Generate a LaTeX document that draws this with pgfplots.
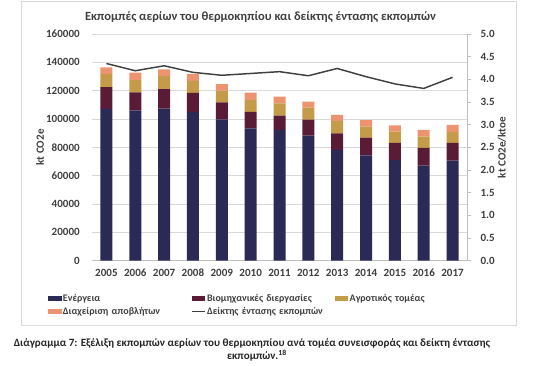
\documentclass[border=0pt]{standalone}
\usepackage{pgfplots}
\pgfplotsset{compat=1.18}
\usepackage{pgfplotstable}
\usepackage{fontspec}
\setmainfont{Carlito}
\definecolor{enc}{HTML}{2B2956}
\definecolor{indc}{HTML}{5A1B36}
\definecolor{agc}{HTML}{C49B48}
\definecolor{wac}{HTML}{EE936F}
\definecolor{linec}{HTML}{404040}
\definecolor{gridc}{HTML}{D9D9D9}
\definecolor{axc}{HTML}{BFBFBF}
\definecolor{txtc}{HTML}{404040}
\definecolor{framec}{HTML}{D9D9D9}
\pgfplotstableread{
x E I A W L
0 107100 15500 9200 4700 4.35
1 106150 12750 8650 5150 4.19
2 107300 13900 9200 4700 4.30
3 105000 13400 8500 4900 4.155
4 99800 12000 8200 4700 4.09
5 93450 11550 8400 5200 4.13
6 92260 10140 8700 4700 4.17
7 88240 11300 8460 4240 4.08
8 78150 11780 8670 4250 4.24
9 74400 12400 7800 4700 4.06
10 71100 12000 8000 4500 3.90
11 67070 12490 7940 4760 3.80
12 70600 12500 7750 4950 4.045
}\datatable
\begin{document}
\bfseries
\begin{tikzpicture}[x=0.75pt,y=0.75pt]
\path[use as bounding box] (0,0) rectangle (540,365);
\draw[framec, line width=0.75pt] (21,363) rectangle (516,40);
\node[font=\fontsize{9.4}{11}\selectfont\bfseries, text=txtc] at (260.5,348) {Εκπομπές αερίων του θερμοκηπίου και δείκτης έντασης εκπομπών};
\node[rotate=90, font=\fontsize{8.3}{10}\selectfont\bfseries, text=txtc] at (40,217.6) {kt CO2e};
\node[rotate=90, font=\fontsize{8.3}{10}\selectfont\bfseries, text=txtc] at (502,217.6) {kt CO2e/ktoe};
\node[font=\fontsize{8.3}{9.5}\selectfont\bfseries, text=black!85] at (252,22) {Διάγραμμα 7: Εξέλιξη εκπομπών αερίων του θερμοκηπίου ανά τομέα συνεισφοράς και δείκτη έντασης};
\node[font=\fontsize{8.3}{9.5}\selectfont\bfseries, text=black!85] at (257,9) {εκπομπών.\textsuperscript{18}};
\begin{axis}[
  at={(69pt,78.225pt)}, anchor=south west,
  scale only axis, width=281.25pt, height=170pt,
  ybar stacked, bar width=9pt,
  xmin=-0.5, xmax=12.5, ymin=0, ymax=160000,
  scaled y ticks=false,
  xtick={0,...,12},
  xticklabels={2005,2006,2007,2008,2009,2010,2011,2012,2013,2014,2015,2016,2017},
  ytick={0,20000,40000,60000,80000,100000,120000,140000,160000},
  yticklabels={0,20000,40000,60000,80000,100000,120000,140000,160000},
  yticklabel style={anchor=east, inner sep=0pt, xshift=-9pt},
  xticklabel style={inner sep=0pt, yshift=-6pt, anchor=north},
  ticklabel style={font=\fontsize{8.3}{10}\selectfont\bfseries, text=txtc},
  axis x line*=bottom, axis y line*=left,
  y axis line style={draw=none},
  x axis line style={draw=axc, line width=0.75pt},
  major tick length=0pt,
  ymajorgrids, grid style={gridc, line width=0.75pt},
  legend columns=3,
  legend style={at={(axis description cs:-0.128,-0.125)}, anchor=north west, draw=none, fill=none,
    font=\fontsize{7.5}{9}\selectfont\bfseries, text=txtc,
    nodes={text width=95pt, align=left, inner xsep=1pt, inner ysep=1.5pt},
    /tikz/every even column/.append style={column sep=0pt}},
]
\addplot[fill=enc, draw=none, legend image code/.code={\fill[enc] (0pt,-2pt) rectangle (10pt,2pt);}] table[x=x,y=E] {\datatable};
\addlegendentry{Ενέργεια}
\addplot[fill=indc, draw=none, legend image code/.code={\fill[indc] (0pt,-2pt) rectangle (10pt,2pt);}] table[x=x,y=I] {\datatable};
\addlegendentry{Βιομηχανικές διεργασίες}
\addplot[fill=agc, draw=none, legend image code/.code={\fill[agc] (0pt,-2pt) rectangle (10pt,2pt);}] table[x=x,y=A] {\datatable};
\addlegendentry{Αγροτικός τομέας}
\addplot[fill=wac, draw=none, legend image code/.code={\fill[wac] (0pt,-2pt) rectangle (10pt,2pt);}] table[x=x,y=W] {\datatable};
\addlegendentry{Διαχείριση αποβλήτων}
\addlegendimage{legend image code/.code={\draw[linec, line width=1.1pt] (0pt,0pt) -- (10pt,0pt);}}
\addlegendentry{Δείκτης έντασης εκπομπών}
\end{axis}
\begin{axis}[
  at={(69pt,78.225pt)}, anchor=south west,
  scale only axis, width=281.25pt, height=170pt,
  xmin=-0.5, xmax=12.5, ymin=0, ymax=5,
  axis x line=none, axis y line*=right,
  y axis line style={draw=axc, line width=0.75pt},
  ytick={0,0.5,1,1.5,2,2.5,3,3.5,4,4.5,5},
  yticklabels={0.0,0.5,1.0,1.5,2.0,2.5,3.0,3.5,4.0,4.5,5.0},
  yticklabel style={anchor=west, inner sep=0pt, xshift=7pt},
  ticklabel style={font=\fontsize{8.3}{10}\selectfont\bfseries, text=txtc},
  tick style={axc, line width=0.75pt}, major tick length=3pt, tick align=outside,
]
\addplot[linec, line width=1.1pt, mark=none] table[x=x,y=L] {\datatable};
\end{axis}
\end{tikzpicture}
\end{document}
